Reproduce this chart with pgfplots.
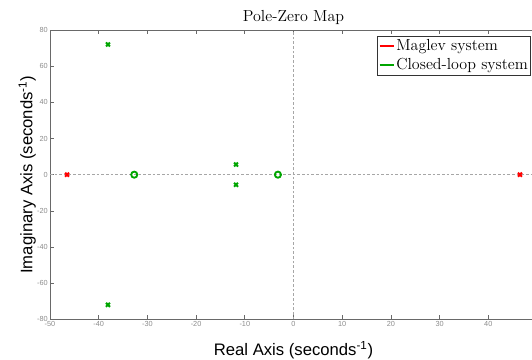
\documentclass[border=0pt]{standalone}
\usepackage{fontspec}
\setmainfont{Latin Modern Roman}
\newfontfamily\arial{Liberation Sans}
\usepackage{pgfplots}
\pgfplotsset{compat=1.18}
\definecolor{mred}{RGB}{255,0,0}
\definecolor{mgreen}{RGB}{0,165,0}
\definecolor{axgray}{RGB}{105,105,105}
\definecolor{tkgray}{RGB}{140,140,140}
\pgfplotsset{shortline/.style={legend image code/.code={\draw[##1] (0pt,0pt)--(10.5pt,0pt);}}}
\begin{document}
\begin{tikzpicture}
\begin{axis}[
  scale only axis, width=365.25pt, height=217pt,
  xmin=-50, xmax=50, ymin=-80, ymax=80,
  xtick={-50,-40,-30,-20,-10,0,10,20,30,40,50},
  ytick={-80,-60,-40,-20,0,20,40,60,80},
  xticklabels={-50,-40,-30,-20,-10,0,10,20,30,40,50},
  yticklabels={-80,-60,-40,-20,0,20,40,60,80},
  tick align=inside, major tick length=3pt,
  tick style={axgray, line width=0.5pt},
  axis line style={axgray, line width=0.6pt},
  ticklabel style={font=\arial\fontsize{5.5}{6}\selectfont, text=tkgray},
  xticklabel style={inner sep=1pt},
  yticklabel style={inner sep=1.5pt},
  title={Pole-Zero Map},
  title style={font=\fontsize{12}{14}\selectfont, at={(axis description cs:0.5,1.0287)}, anchor=base, yshift=-6pt},
  xlabel={Real Axis (seconds\textsuperscript{-1})},
  ylabel={Imaginary Axis (seconds\textsuperscript{-1})},
  xlabel style={font=\arial\fontsize{12.5}{14}\selectfont, at={(axis description cs:0.5,-0.1234)}, anchor=base},
  ylabel style={font=\arial\fontsize{12.5}{14}\selectfont, at={(axis description cs:-0.0363,0.5)}, anchor=base, rotate=0},
  legend style={font=\fontsize{12}{14}\selectfont, at={(axis description cs:1,1)}, anchor=north east,
    xshift=-4.5pt, yshift=-4.3pt, draw=black!80, line width=0.5pt, inner xsep=1pt, inner ysep=1.5pt,
    row sep=2.5pt, nodes={inner sep=1pt}},
  legend cell align=left,
  clip=false,
]
\draw[dashed, black!35, line width=0.4pt, dash pattern=on 2pt off 1.5pt] (axis cs:0,-80) -- (axis cs:0,80);
\draw[dashed, black!35, line width=0.4pt, dash pattern=on 2pt off 1.5pt] (axis cs:-50,0) -- (axis cs:50,0);
\addplot[forget plot, only marks, mark=x, mark size=2.1pt, line width=1.5pt, mred] coordinates {(-46.5,0) (46.5,0)};
\addplot[forget plot, only marks, mark=x, mark size=2.1pt, line width=1.5pt, mgreen] coordinates {(-38.1,72) (-38.1,-72) (-11.8,5.6) (-11.8,-5.6)};
\addplot[forget plot, only marks, mark=o, mark size=2.3pt, line width=1.4pt, mgreen] coordinates {(-32.7,0) (-3.2,0)};
\addlegendimage{shortline, mred, line width=2pt}
\addlegendentry{Maglev system}
\addlegendimage{shortline, mgreen, line width=2pt}
\addlegendentry{Closed-loop system}
\coordinate (bl) at (rel axis cs:0,0);
\end{axis}
\pgfresetboundingbox
\useasboundingbox (bl) ++(-37.5pt,-30.5pt) rectangle ++(399pt,270pt);
\end{tikzpicture}
\end{document}
